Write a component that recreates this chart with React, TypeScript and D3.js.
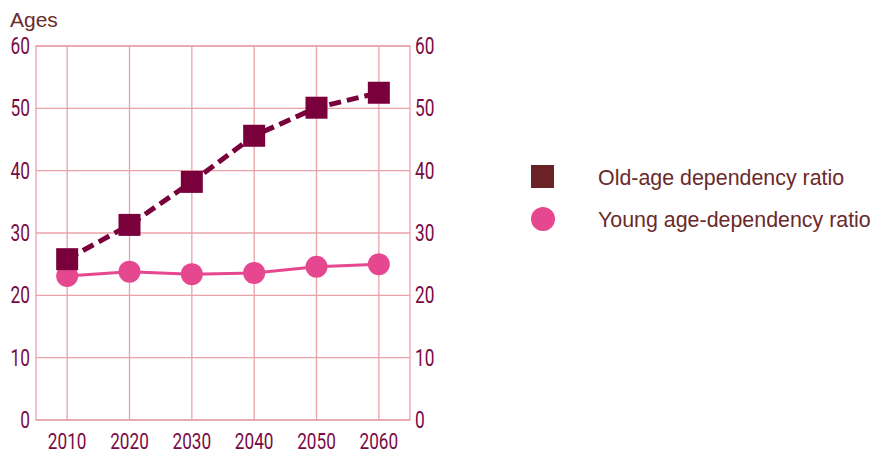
import React from 'react'
import * as d3 from 'd3'

// chart data
const years = ['2010', '2020', '2030', '2040', '2050', '2060']
const oldAge = [25.8, 31.3, 38.2, 45.6, 50.1, 52.5]
const young = [23.1, 23.8, 23.4, 23.6, 24.6, 25.0]
const yTicks = [0, 10, 20, 30, 40, 50, 60]
const seriesNames = ['Old-age dependency ratio', 'Young age-dependency ratio']

const W = 871
const H = 454
const plot = { left: 36, right: 410, top: 46, bottom: 420 }

const gridColor = '#e9a3a9'
const tickColor = '#7a0a45'
const textColor = '#6b2a2a'
const oldColor = '#7a003c'
const youngColor = '#e6488f'
const tickFont = 'Roboto, "DejaVu Sans", sans-serif'
const labelFont = 'Arial, "Liberation Sans", sans-serif'

// condensed-looking tick text: squeeze horizontally
const Tick = ({
  x,
  y,
  anchor,
  size = 24,
  sx = 0.72,
  children,
}: {
  x: number
  y: number
  anchor: string
  size?: number
  sx?: number
  children: React.ReactNode
}) => (
  <text
    transform={`translate(${x},${y}) scale(${sx},1)`}
    textAnchor={anchor}
    fontFamily={tickFont}
    fontSize={size}
    fill={tickColor}
  >
    {children}
  </text>
)

const App = () => {
  const x = d3.scalePoint().domain(years).range([plot.left, plot.right]).padding(0.5)
  const y = d3.scaleLinear().domain([0, 60]).range([plot.bottom, plot.top])

  const line = d3
    .line<number>()
    .x((_, i) => x(years[i]) as number)
    .y((d) => y(d))

  return (
    <svg width={W} height={H} style={{ position: 'absolute', left: 0, top: 0 }}>
      <rect width={W} height={H} fill="white" />
      <text x={10} y={27} fontFamily={labelFont} fontSize={21} fill={textColor}>
        Ages
      </text>

      {/* grid */}
      {yTicks.map((t) => (
        <line key={`gy${t}`} x1={plot.left} x2={plot.right} y1={y(t)} y2={y(t)} stroke={gridColor} strokeWidth={1.3} />
      ))}
      {years.map((yr) => (
        <line key={`gx${yr}`} x1={x(yr)} x2={x(yr)} y1={plot.top} y2={plot.bottom} stroke={gridColor} strokeWidth={1.3} />
      ))}
      <rect
        x={plot.left}
        y={plot.top}
        width={plot.right - plot.left}
        height={plot.bottom - plot.top}
        fill="none"
        stroke={gridColor}
        strokeWidth={1.3}
      />

      {/* axis labels */}
      {yTicks.map((t) => (
        <g key={`ty${t}`}>
          <Tick x={30} y={y(t) + 8} anchor="end">
            {t}
          </Tick>
          <Tick x={415} y={y(t) + 8} anchor="start">
            {t}
          </Tick>
        </g>
      ))}
      {years.map((yr) => (
        <Tick key={`tx${yr}`} x={x(yr) as number} y={449} anchor="middle" size={21.5} sx={0.8}>
          {yr}
        </Tick>
      ))}

      {/* young series */}
      <path d={line(young) ?? ''} fill="none" stroke={youngColor} strokeWidth={3} />
      {young.map((v, i) => (
        <circle key={`c${i}`} cx={x(years[i])} cy={y(v)} r={11} fill={youngColor} />
      ))}

      {/* old-age series */}
      <path d={line(oldAge) ?? ''} fill="none" stroke={oldColor} strokeWidth={5} strokeDasharray="12 6" />
      {oldAge.map((v, i) => (
        <rect key={`s${i}`} x={(x(years[i]) as number) - 11} y={y(v) - 11} width={22} height={22} fill={oldColor} />
      ))}

      {/* legend */}
      <rect x={531} y={165} width={23} height={23} fill="#6b2226" />
      <circle cx={543} cy={219} r={12} fill={youngColor} />
      <g fontFamily={labelFont} fontSize={21.4} fill={textColor}>
        <text x={598} y={185}>{seriesNames[0]}</text>
        <text x={598} y={227}>{seriesNames[1]}</text>
      </g>
    </svg>
  )
}

export default App
